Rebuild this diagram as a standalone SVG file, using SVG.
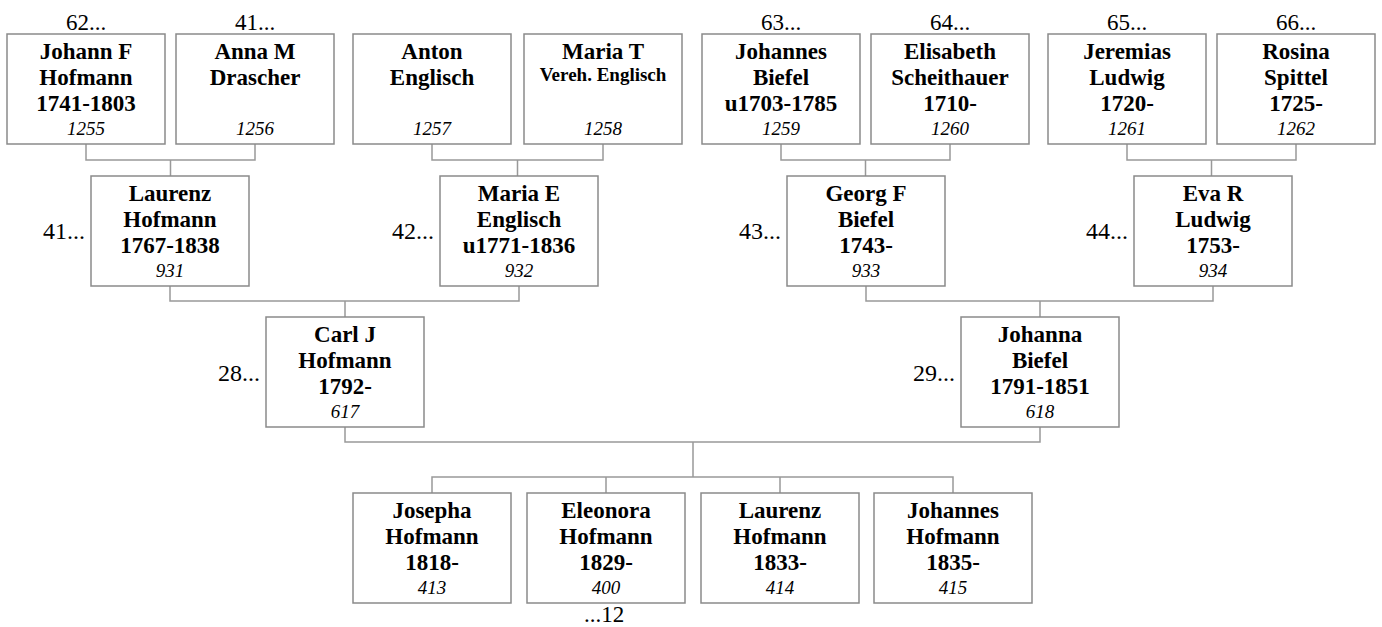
<svg xmlns="http://www.w3.org/2000/svg" width="1382" height="627" viewBox="0 0 1382 627">
<style>
.box{fill:#fff;stroke:#8a8a8a;stroke-width:1.5}
.n{font-family:"Liberation Serif","Times New Roman",serif;font-weight:bold;font-size:23px;fill:#000;text-anchor:middle}
.s{font-family:"Liberation Serif","Times New Roman",serif;font-weight:bold;font-size:19px;fill:#000;text-anchor:middle}
.i{font-family:"Liberation Serif","Times New Roman",serif;font-style:italic;font-size:19px;fill:#000;text-anchor:middle}
.l{font-family:"Liberation Serif","Times New Roman",serif;font-size:23px;fill:#000;text-anchor:middle}
.le{font-family:"Liberation Serif","Times New Roman",serif;font-size:24px;fill:#000;text-anchor:end}
.c{fill:none;stroke:#999;stroke-width:1.5}
</style>
<rect width="1382" height="627" fill="#fff"/>
<g id="connectors" class="c">
<path d="M86,144V160H255V144M170.5,160V176"/>
<path d="M432,144V160H603V144M517.5,160V176"/>
<path d="M781,144V160H950V144M865.5,160V176"/>
<path d="M1127,144V160H1296V144M1211.5,160V176"/>
<path d="M170,286V301H519V286M345,301V317"/>
<path d="M866,286V301H1213V286M1040,301V317"/>
<path d="M345,427V442H1040V427M693,442V477"/>
<path d="M432,493V477H953V493M606,477V493M780,477V493"/>
</g>
<g id="n1255"><text class="l" x="86" y="30">62...</text><rect class="box" x="7" y="34" width="158" height="110"/><text class="n" x="86" y="59">Johann F</text><text class="n" x="86" y="85">Hofmann</text><text class="n" x="86" y="111">1741-1803</text><text class="i" x="86" y="135">1255</text></g>
<g id="n1256"><text class="l" x="255" y="30">41...</text><rect class="box" x="176" y="34" width="158" height="110"/><text class="n" x="255" y="59">Anna M</text><text class="n" x="255" y="85">Drascher</text><text class="i" x="255" y="135">1256</text></g>
<g id="n1257"><rect class="box" x="353" y="34" width="158" height="110"/><text class="n" x="432" y="59">Anton</text><text class="n" x="432" y="85">Englisch</text><text class="i" x="432" y="135">1257</text></g>
<g id="n1258"><rect class="box" x="524" y="34" width="158" height="110"/><text class="n" x="603" y="59">Maria T</text><text class="s" x="603" y="81">Vereh. Englisch</text><text class="i" x="603" y="135">1258</text></g>
<g id="n1259"><text class="l" x="781" y="30">63...</text><rect class="box" x="702" y="34" width="158" height="110"/><text class="n" x="781" y="59">Johannes</text><text class="n" x="781" y="85">Biefel</text><text class="n" x="781" y="111">u1703-1785</text><text class="i" x="781" y="135">1259</text></g>
<g id="n1260"><text class="l" x="950" y="30">64...</text><rect class="box" x="871" y="34" width="158" height="110"/><text class="n" x="950" y="59">Elisabeth</text><text class="n" x="950" y="85">Scheithauer</text><text class="n" x="950" y="111">1710-</text><text class="i" x="950" y="135">1260</text></g>
<g id="n1261"><text class="l" x="1127" y="30">65...</text><rect class="box" x="1048" y="34" width="158" height="110"/><text class="n" x="1127" y="59">Jeremias</text><text class="n" x="1127" y="85">Ludwig</text><text class="n" x="1127" y="111">1720-</text><text class="i" x="1127" y="135">1261</text></g>
<g id="n1262"><text class="l" x="1296" y="30">66...</text><rect class="box" x="1217" y="34" width="158" height="110"/><text class="n" x="1296" y="59">Rosina</text><text class="n" x="1296" y="85">Spittel</text><text class="n" x="1296" y="111">1725-</text><text class="i" x="1296" y="135">1262</text></g>
<g id="n931"><text class="le" x="85" y="239">41...</text><rect class="box" x="91" y="176" width="158" height="110"/><text class="n" x="170" y="201">Laurenz</text><text class="n" x="170" y="227">Hofmann</text><text class="n" x="170" y="253">1767-1838</text><text class="i" x="170" y="277">931</text></g>
<g id="n932"><text class="le" x="434" y="239">42...</text><rect class="box" x="440" y="176" width="158" height="110"/><text class="n" x="519" y="201">Maria E</text><text class="n" x="519" y="227">Englisch</text><text class="n" x="519" y="253">u1771-1836</text><text class="i" x="519" y="277">932</text></g>
<g id="n933"><text class="le" x="781" y="239">43...</text><rect class="box" x="787" y="176" width="158" height="110"/><text class="n" x="866" y="201">Georg F</text><text class="n" x="866" y="227">Biefel</text><text class="n" x="866" y="253">1743-</text><text class="i" x="866" y="277">933</text></g>
<g id="n934"><text class="le" x="1128" y="239">44...</text><rect class="box" x="1134" y="176" width="158" height="110"/><text class="n" x="1213" y="201">Eva R</text><text class="n" x="1213" y="227">Ludwig</text><text class="n" x="1213" y="253">1753-</text><text class="i" x="1213" y="277">934</text></g>
<g id="n617"><text class="le" x="260" y="381">28...</text><rect class="box" x="266" y="317" width="158" height="110"/><text class="n" x="345" y="342">Carl J</text><text class="n" x="345" y="368">Hofmann</text><text class="n" x="345" y="394">1792-</text><text class="i" x="345" y="418">617</text></g>
<g id="n618"><text class="le" x="955" y="381">29...</text><rect class="box" x="961" y="317" width="158" height="110"/><text class="n" x="1040" y="342">Johanna</text><text class="n" x="1040" y="368">Biefel</text><text class="n" x="1040" y="394">1791-1851</text><text class="i" x="1040" y="418">618</text></g>
<g id="n413"><rect class="box" x="353" y="493" width="158" height="110"/><text class="n" x="432" y="518">Josepha</text><text class="n" x="432" y="544">Hofmann</text><text class="n" x="432" y="570">1818-</text><text class="i" x="432" y="594">413</text></g>
<g id="n400"><rect class="box" x="527" y="493" width="158" height="110"/><text class="n" x="606" y="518">Eleonora</text><text class="n" x="606" y="544">Hofmann</text><text class="n" x="606" y="570">1829-</text><text class="i" x="606" y="594">400</text><text class="l" x="604" y="622">...12</text></g>
<g id="n414"><rect class="box" x="701" y="493" width="158" height="110"/><text class="n" x="780" y="518">Laurenz</text><text class="n" x="780" y="544">Hofmann</text><text class="n" x="780" y="570">1833-</text><text class="i" x="780" y="594">414</text></g>
<g id="n415"><rect class="box" x="874" y="493" width="158" height="110"/><text class="n" x="953" y="518">Johannes</text><text class="n" x="953" y="544">Hofmann</text><text class="n" x="953" y="570">1835-</text><text class="i" x="953" y="594">415</text></g>
</svg>
